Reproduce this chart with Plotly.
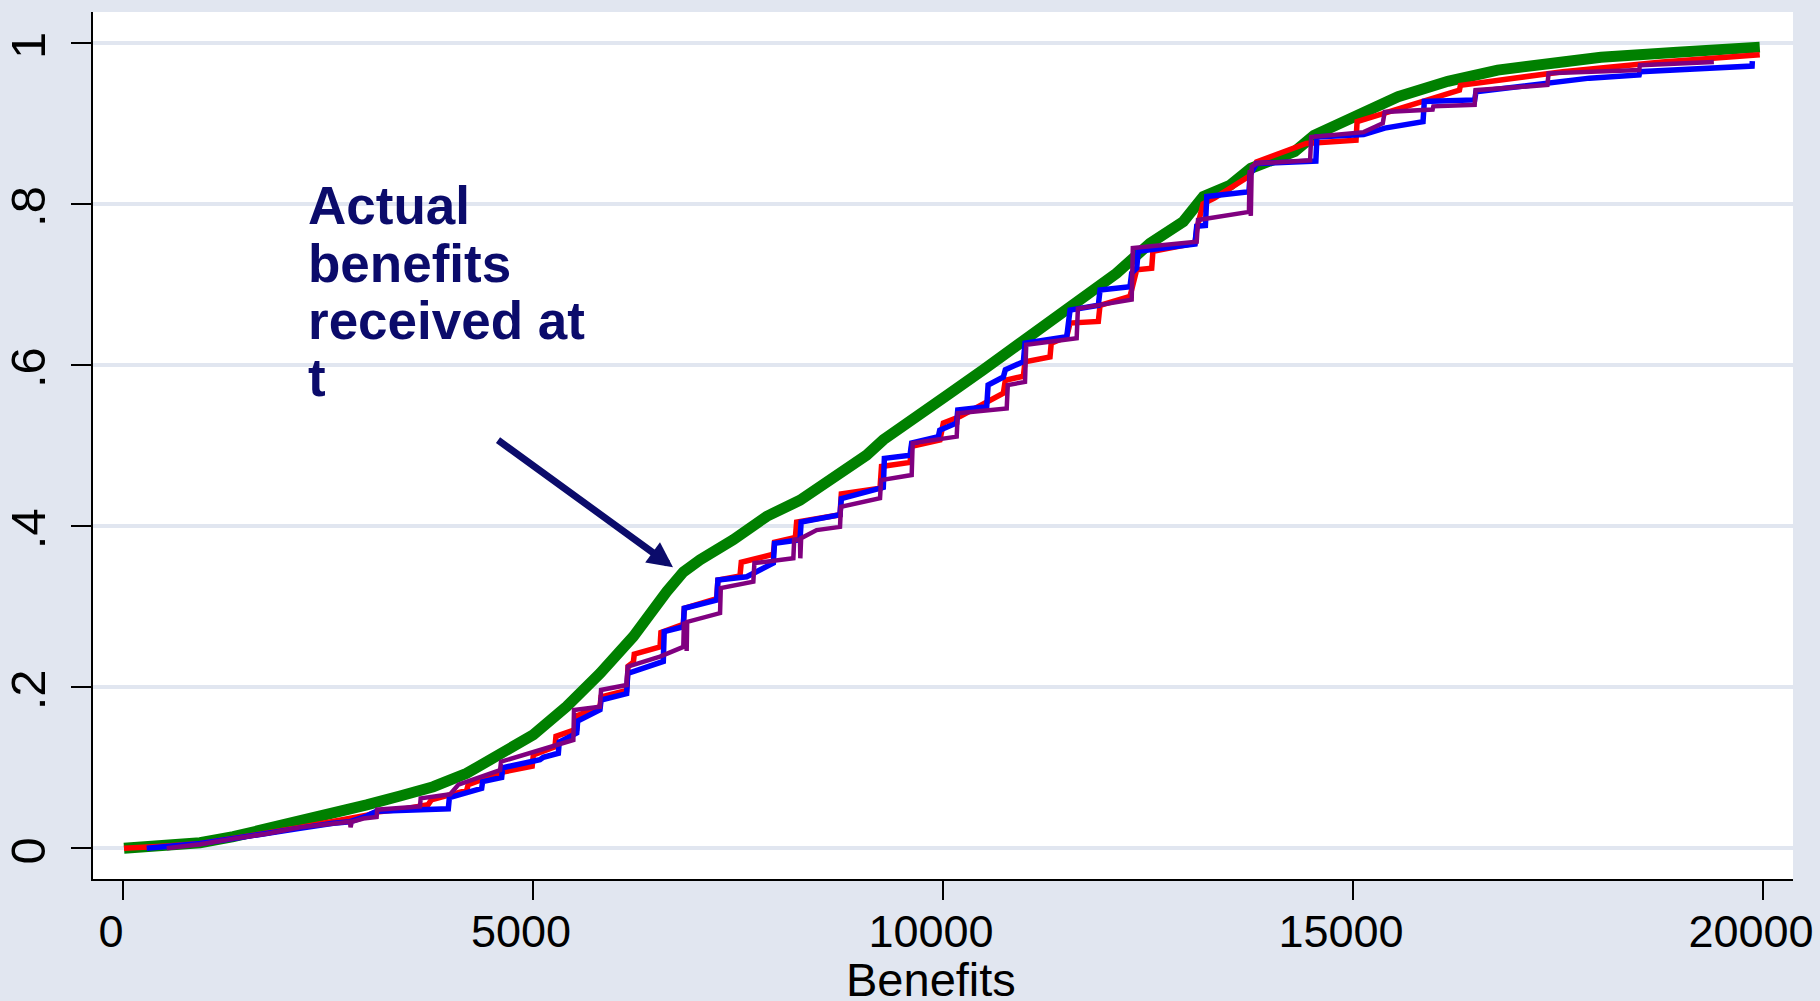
import plotly.graph_objects as go

# ---------------- data ----------------
green_x = [12, 533, 939, 1345, 1752, 2159, 2565, 2972, 3378, 3784, 4191, 4598, 5004, 5411,
           5817, 6224, 6427, 6630, 6833, 7037, 7443, 7849, 8256, 8662, 9069, 9272, 9679,
           10085, 10492, 10898, 11305, 11711, 12118, 12524, 12931, 13175, 13500, 13754,
           14290, 14524, 14990, 15550, 16157, 16764, 17557, 18024, 18957, 19961]
green_y = [0.000, 0.003, 0.007, 0.0144, 0.0235, 0.034, 0.044, 0.054, 0.065, 0.0765, 0.093,
           0.116, 0.141, 0.176, 0.217, 0.263, 0.292, 0.3185, 0.343, 0.358, 0.383, 0.412,
           0.432, 0.461, 0.488, 0.507, 0.534, 0.565, 0.594, 0.623, 0.652, 0.681, 0.714,
           0.751, 0.778, 0.809, 0.823, 0.844, 0.865, 0.885, 0.908, 0.933, 0.952, 0.966,
           0.976, 0.982, 0.988, 0.9945]

red_x = [12, 289, 533, 939, 1345, 1752, 2159, 2565, 2972, 3093, 3378, 3720, 3760, 4191, 4210,
         4600, 4801, 4990, 5004, 5268, 5280, 5533, 5545, 5817, 5830, 6142, 6160, 6224, 6235,
         6549, 6560, 6833, 6845, 7240, 7255, 7524, 7540, 7931, 7945, 8200, 8215, 8744, 8760,
         9232, 9250, 9598, 9618, 9963, 10004, 10207, 10736, 10760, 10980, 11000, 11305,
         11320, 11509, 11549, 11894, 11915, 12280, 12362, 12545, 12560, 13073, 13094, 13171,
         13310, 13731, 13823, 14430, 15037, 15050, 15878, 16298, 16310, 16857, 17557,
         18770, 19961]
red_y = [0.000, 0.001, 0.003, 0.006, 0.012, 0.019, 0.026, 0.033, 0.041, 0.045, 0.048, 0.054,
         0.060, 0.072, 0.079, 0.094, 0.099, 0.102, 0.116, 0.126, 0.139, 0.148, 0.165, 0.176,
         0.188, 0.196, 0.226, 0.231, 0.241, 0.250, 0.268, 0.278, 0.298, 0.310, 0.333, 0.338,
         0.355, 0.365, 0.380, 0.386, 0.405, 0.414, 0.440, 0.447, 0.474, 0.479, 0.499, 0.507,
         0.528, 0.536, 0.565, 0.581, 0.586, 0.604, 0.610, 0.627, 0.635, 0.652, 0.654, 0.674,
         0.685, 0.718, 0.720, 0.741, 0.751, 0.768, 0.800, 0.807, 0.834, 0.852, 0.875, 0.879,
         0.902, 0.927, 0.941, 0.947, 0.954, 0.964, 0.976, 0.985]

blue_x = [289, 533, 939, 1467, 1752, 2159, 2565, 2768, 2972, 3093, 3967, 3980, 4374, 4385,
          4618, 4630, 5085, 5126, 5309, 5320, 5533, 5545, 5817, 5830, 6142, 6155, 6589, 6600,
          6833, 6845, 7240, 7255, 7606, 7931, 7945, 8256, 8270, 8744, 8760, 9232, 9272, 9285,
          9598, 9618, 9943, 9960, 10167, 10180, 10533, 10550, 10736, 10760, 10980, 11000,
          11509, 11549, 11894, 11915, 12280, 12301, 12362, 12380, 13073, 13094, 13200, 13217,
          13731, 13745, 13823, 14547, 14560, 15130, 15387, 15854, 15870, 16484, 16500, 17884,
          18490, 18500, 19238, 19867, 19870]
blue_y = [0.000, 0.002, 0.006, 0.014, 0.019, 0.025, 0.031, 0.033, 0.040, 0.046, 0.049, 0.063,
          0.0745, 0.0827, 0.088, 0.100, 0.110, 0.113, 0.118, 0.132, 0.143, 0.158, 0.172,
          0.184, 0.192, 0.217, 0.232, 0.269, 0.275, 0.298, 0.308, 0.333, 0.337, 0.354, 0.3785,
          0.383, 0.405, 0.414, 0.434, 0.446, 0.448, 0.484, 0.488, 0.503, 0.511, 0.519, 0.528,
          0.544, 0.548, 0.575, 0.585, 0.594, 0.604, 0.627, 0.635, 0.668, 0.674, 0.693, 0.697,
          0.714, 0.720, 0.741, 0.750, 0.772, 0.773, 0.809, 0.815, 0.836, 0.850, 0.853, 0.883,
          0.886, 0.894, 0.902, 0.927, 0.929, 0.939, 0.956, 0.960, 0.964, 0.968, 0.971, 0.977]

purple_x = [533, 939, 1345, 1752, 2159, 2565, 2768, 2775, 2790, 2930, 3093, 3100, 3622, 3630,
            3990, 4090, 4598, 4610, 5207, 5492, 5500, 5817, 5830, 6142, 6155, 6548, 6833,
            6840, 6870, 6874, 6880, 7281, 7290, 7687, 7700, 8175, 8185, 8256, 8260, 8270,
            8459, 8744, 8755, 9232, 9245, 9618, 9630, 10167, 10180, 10777, 10790, 11000,
            11015, 11630, 11645, 12301, 12315, 13094, 13110, 13731, 13740, 13754, 13765,
            13823, 14477, 14490, 15130, 15363, 15387, 15971, 15980, 16484, 16495, 17371,
            17385, 18490, 18500, 19401]
purple_y = [0.000, 0.005, 0.012, 0.018, 0.026, 0.031, 0.033, 0.026, 0.033, 0.037, 0.039,
            0.048, 0.052, 0.062, 0.067, 0.079, 0.097, 0.1075, 0.125, 0.1345, 0.1717, 0.1758,
            0.1965, 0.2027, 0.2255, 0.238, 0.250, 0.279, 0.280, 0.245, 0.281, 0.292, 0.323,
            0.331, 0.354, 0.360, 0.383, 0.383, 0.360, 0.385, 0.395, 0.399, 0.424, 0.4345,
            0.457, 0.4634, 0.503, 0.511, 0.540, 0.546, 0.575, 0.579, 0.625, 0.633, 0.670,
            0.681, 0.745, 0.753, 0.780, 0.790, 0.842, 0.785, 0.846, 0.850, 0.854, 0.883,
            0.889, 0.900, 0.914, 0.917, 0.921, 0.923, 0.941, 0.9475, 0.962, 0.966, 0.972,
            0.976]

x_ticks = [0, 5000, 10000, 15000, 20000]
x_tick_labels = ["0", "5000", "10000", "15000", "20000"]
y_ticks = [0, 0.2, 0.4, 0.6, 0.8, 1]
y_tick_labels = ["0", ".2", ".4", ".6", ".8", "1"]

note_lines = ["Actual", "benefits", "received at", "t"]
note_x = 2238
note_y = [0.7978, 0.7264, 0.6550, 0.5843]
arrow_tail = (4555, 0.508)
arrow_tip = (6707, 0.349)
x_title = "Benefits"

# ---------------- style ----------------
BG = "#E1E6F0"
NAVY = "#0B0B6B"
FONT = "Liberation Sans, Arial, sans-serif"

fig = go.Figure()
for xs, ys, col, w in [(green_x, green_y, "#008000", 11),
                       (red_x, red_y, "#FF0000", 5.5),
                       (blue_x, blue_y, "#0000FF", 5.5),
                       (purple_x, purple_y, "#800080", 4.5)]:
    fig.add_trace(go.Scatter(x=xs, y=ys, mode="lines",
                             line=dict(color=col, width=w), showlegend=False,
                             hoverinfo="skip"))

fig.update_layout(
    width=1820, height=1001,
    margin=dict(l=93, r=27, t=12, b=122, autoexpand=False),
    paper_bgcolor=BG, plot_bgcolor="white",
    font=dict(family=FONT, size=46, color="black"),
    showlegend=False,
)
fig.update_xaxes(
    range=[-366, 20366], tickmode="array", tickvals=x_ticks, ticktext=x_tick_labels,
    ticks="outside", ticklen=19, tickwidth=1.5, tickcolor="black",
    ticklabelshift=-12, ticklabelstandoff=-7, ticklabeloverflow="allow",
    automargin=False,
    showline=True, linecolor="black", linewidth=2, showgrid=False, zeroline=False,
    tickfont=dict(family=FONT, size=45, color="black"),
)
fig.update_yaxes(
    range=[-0.0381, 1.0381], tickmode="array", tickvals=y_ticks, ticktext=y_tick_labels,
    tickangle=-90, ticks="outside", ticklen=20, tickwidth=1.5, tickcolor="black",
    ticklabelshift=10, ticklabelstandoff=6, ticklabeloverflow="allow",
    automargin=False,
    showline=True, linecolor="black", linewidth=2,
    showgrid=True, gridcolor=BG, gridwidth=4, zeroline=False,
    tickfont=dict(family=FONT, size=49, color="black"),
)

for txt, yy in zip(note_lines, note_y):
    fig.add_annotation(x=note_x, y=yy, xref="x", yref="y", text="<b>%s</b>" % txt,
                       showarrow=False, xanchor="left", yanchor="middle", borderpad=0,
                       font=dict(family=FONT, size=53, color=NAVY))

fig.add_annotation(x=arrow_tip[0], y=arrow_tip[1], xref="x", yref="y",
                   ax=arrow_tail[0], ay=arrow_tail[1], axref="x", ayref="y",
                   text="", showarrow=True, arrowhead=2, arrowsize=0.72,
                   arrowwidth=7, arrowcolor=NAVY, standoff=0)

fig.add_annotation(x=9854, y=-0.1161, xref="x", yref="paper", text=x_title,
                   showarrow=False, xanchor="center", yanchor="middle",
                   font=dict(family=FONT, size=47, color="black"))

fig.write_html("out.html", config={"displayModeBar": False},
               post_script="document.body.style.margin='0';document.body.style.overflow='hidden';")
